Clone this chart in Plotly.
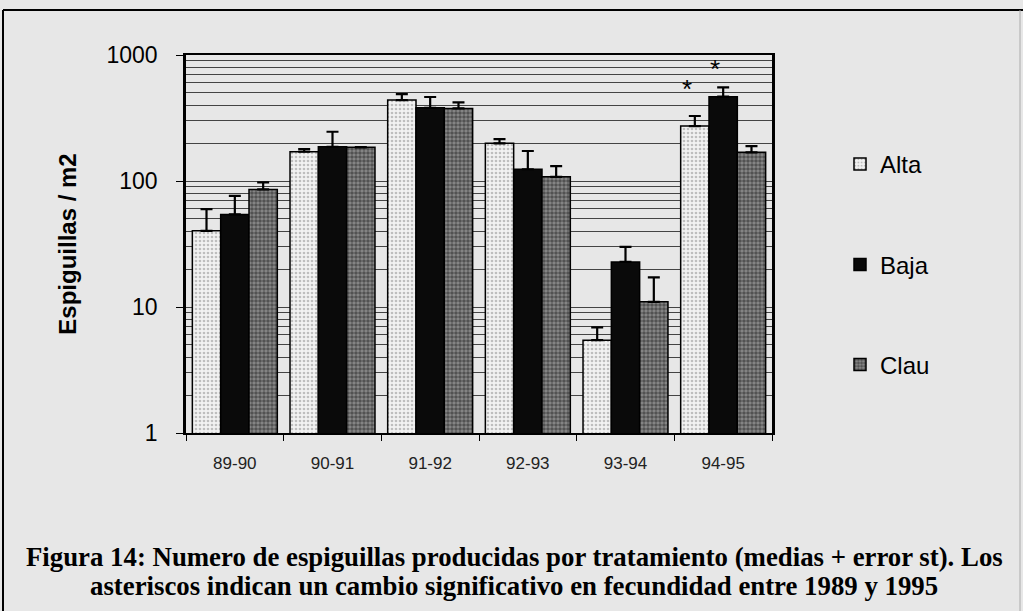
import math
import plotly.graph_objects as go

# ---------------- data ----------------
categories = ["89-90", "90-91", "91-92", "92-93", "93-94", "94-95"]
series_names = ["Alta", "Baja", "Clau"]
alta_mean = [40.2, 170.6, 439, 199, 5.45, 273]
alta_err = [19.6, 8.4, 51, 16, 1.45, 55]
baja_mean = [54.3, 187, 381, 124, 22.8, 467]
baja_err = [22, 59, 83, 49, 7.2, 87]
clau_mean = [85.8, 185, 377, 108, 11.0, 169]
clau_err = [11.7, 1.0, 44, 23, 6.2, 20]
# significant changes (asterisks): (series index, category, y value)
asterisks = [(0, "94-95", 585), (1, "94-95", 850)]
y_major_ticks = [1, 10, 100, 1000]

y_title = "Espiguillas / m2"
caption_1 = "Figura 14: Numero de espiguillas producidas por tratamiento (medias + error st). Los"
caption_2 = "asteriscos indican un cambio significativo en fecundidad entre 1989 y 1995"

# ---------------- layout geometry ----------------
W, H = 1023, 611
ML, MR, MT, MB = 186, 251, 55, 178
PW, PH = W - ML - MR, H - MT - MB
BARGAP = 0.13
BG = "#e7e7e7"


def px_x(px):
    return (px - ML) / PW


def px_y(py):
    return (H - MB - py) / PH


styles = [
    dict(color="#f2f2f2", pattern=dict(shape=".", fgcolor="#8a8a8a", size=4, solidity=0.35)),
    dict(color="#0a0a0a"),
    dict(color="#8a8a8a", pattern=dict(shape=".", fgcolor="#1a1a1a", size=4, solidity=0.62)),
]
means = [alta_mean, baja_mean, clau_mean]
errs = [alta_err, baja_err, clau_err]
legend_ids = ["legend", "legend2", "legend3"]

fig = go.Figure()
for i, name in enumerate(series_names):
    marker = dict(line=dict(color="black", width=1.5))
    marker["color"] = styles[i]["color"]
    if "pattern" in styles[i]:
        marker["pattern"] = styles[i]["pattern"]
    fig.add_trace(go.Bar(
        x=categories, y=means[i], name=name, marker=marker,
        error_y=dict(type="data", array=errs[i], arrayminus=[0] * len(errs[i]),
                     symmetric=False, color="black", thickness=2.2, width=6),
        legend=legend_ids[i], showlegend=True,
    ))

# asterisks over the significant bars
bar_w = (1 - BARGAP) / len(series_names)
for s_idx, cat, yv in asterisks:
    xpos = categories.index(cat) + (s_idx - 1) * bar_w
    fig.add_annotation(x=xpos, y=math.log10(yv), xref="x", yref="y", text="*", showarrow=False,
                       xshift=-8, yshift=-5, font=dict(family="Liberation Sans, Arial", size=26, color="black"),
                       yanchor="middle")

# minor grid values (2..9 per decade)
minor_vals = [m * 10 ** k for k in range(0, 3) for m in range(2, 10)]

fig.update_layout(
    width=W, height=H, showlegend=True,
    margin=dict(l=ML, r=MR, t=MT, b=MB, autoexpand=False),
    paper_bgcolor=BG, plot_bgcolor=BG,
    barmode="group", bargap=BARGAP, bargroupgap=0,
    font=dict(family="Liberation Sans, Arial", color="black"),
    xaxis=dict(type="category", showline=True, linecolor="black", linewidth=2, mirror=True,
               ticks="outside", tickson="boundaries", ticklen=6, tickcolor="black",
               tickfont=dict(size=17, color="#222"), ticklabelstandoff=14, showgrid=False),
    yaxis=dict(type="log", range=[0, 3], showline=True, linecolor="black", linewidth=2.5,
               mirror=True, tickvals=y_major_ticks, ticktext=[str(v) for v in y_major_ticks],
               ticks="outside", ticklen=7, tickcolor="black", tickfont=dict(size=23),
               ticklabelstandoff=14,
               showgrid=True, gridcolor="#444444", gridwidth=1,
               minor=dict(tickvals=minor_vals, showgrid=True, gridcolor="#444444", gridwidth=1, ticks=""),
               title=dict(text="<b>" + y_title + "</b>", font=dict(size=24), standoff=24)),
)

leg_y = [px_y(164.5), px_y(265), px_y(365)]
for lid, ly in zip(legend_ids, leg_y):
    fig.update_layout({lid: dict(x=px_x(840), xanchor="left", y=ly, yanchor="middle",
                                 bgcolor="rgba(0,0,0,0)", font=dict(size=24, color="black"),
                                 borderwidth=0)})

# caption
cap_font = dict(family="Liberation Serif, Times New Roman", size=26.8, color="black")
fig.add_annotation(x=px_x(514), y=px_y(557), xref="paper", yref="paper", text="<b>" + caption_1 + "</b>",
                   showarrow=False, font=cap_font, xanchor="center", yanchor="middle")
fig.add_annotation(x=px_x(514), y=px_y(586), xref="paper", yref="paper", text="<b>" + caption_2 + "</b>",
                   showarrow=False, font=cap_font, xanchor="center", yanchor="middle")

# outer frame of the figure
fig.add_shape(type="line", xref="paper", yref="paper", x0=px_x(3), x1=px_x(1023), y0=px_y(10), y1=px_y(10),
              line=dict(color="black", width=2))
fig.add_shape(type="line", xref="paper", yref="paper", x0=px_x(3), x1=px_x(3), y0=px_y(10), y1=px_y(611),
              line=dict(color="black", width=2))
fig.add_shape(type="line", xref="paper", yref="paper", x0=px_x(1020), x1=px_x(1020), y0=px_y(10), y1=px_y(611),
              line=dict(color="#aaaaaa", width=1))

fig.write_html("out.html", config={"displayModeBar": False},
               post_script="document.body.style.margin='0px';document.body.style.background='" + BG + "';")
